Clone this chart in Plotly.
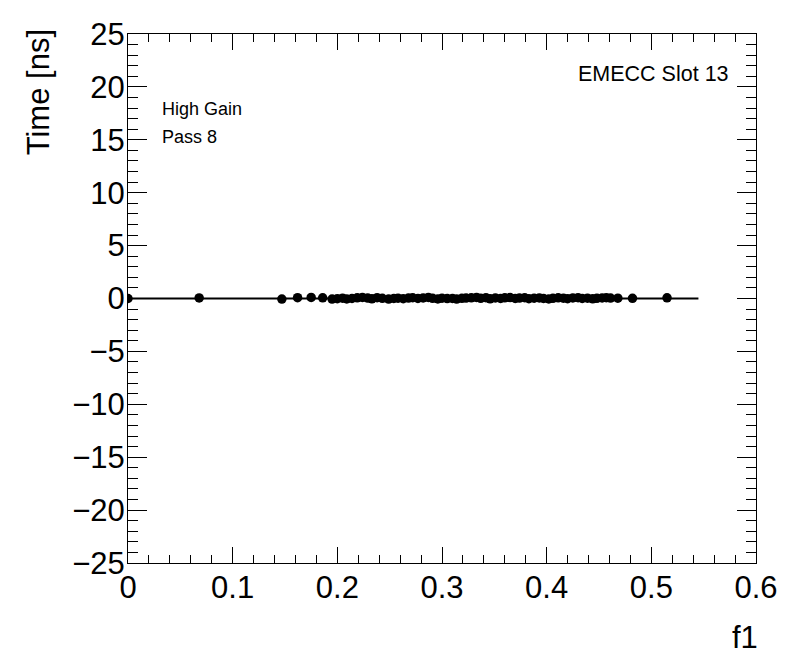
import plotly.graph_objects as go

# Data
f1_values = [0.0, 0.068, 0.147, 0.162, 0.175, 0.186, 0.195, 0.200, 0.205, 0.209,
             0.214, 0.219, 0.224, 0.229, 0.233, 0.238, 0.243, 0.249, 0.254, 0.258,
             0.263, 0.268, 0.272, 0.277, 0.282, 0.287, 0.291, 0.296, 0.300, 0.305,
             0.310, 0.314, 0.319, 0.323, 0.328, 0.333, 0.337, 0.342, 0.346, 0.351,
             0.356, 0.360, 0.365, 0.370, 0.374, 0.379, 0.383, 0.388, 0.393, 0.397,
             0.402, 0.406, 0.411, 0.416, 0.420, 0.425, 0.430, 0.434, 0.439, 0.444,
             0.448, 0.453, 0.457, 0.461, 0.468, 0.482, 0.515]
time_values = [0.00, 0.05, -0.05, 0.08, 0.10, 0.06, -0.05, -0.02, 0.03, -0.04,
               0.00, 0.06, 0.10, 0.04, -0.03, 0.08, 0.02, -0.05, 0.00, 0.03,
               -0.02, 0.04, 0.07, 0.00, 0.05, 0.10, 0.02, -0.04, 0.03, -0.01,
               0.00, -0.05, 0.02, 0.04, 0.06, 0.10, 0.02, 0.08, -0.03, 0.05,
               0.00, 0.06, 0.09, 0.01, 0.04, 0.07, -0.02, 0.03, 0.05, 0.00,
               -0.04, 0.02, 0.06, 0.03, -0.02, 0.05, 0.08, 0.00, 0.03, -0.03,
               0.02, 0.05, 0.07, 0.04, 0.03, 0.02, 0.06]
fit_x = [0.0, 0.545]
fit_y = [0.0, 0.0]

FONT = "Liberation Sans, Arial, Helvetica, sans-serif"

fig = go.Figure()
fig.add_trace(go.Scatter(x=fit_x, y=fit_y, mode="lines",
                         line=dict(color="black", width=2), showlegend=False))
fig.add_trace(go.Scatter(x=f1_values, y=time_values, mode="markers",
                         marker=dict(color="black", size=9.5, symbol="circle"),
                         showlegend=False))

fig.update_layout(
    width=796, height=672,
    margin=dict(l=128, r=40, t=34, b=109, autoexpand=False),
    paper_bgcolor="white", plot_bgcolor="white",
    font=dict(family=FONT, color="black"),
    xaxis=dict(range=[0, 0.6], dtick=0.1, tick0=0, ticks="inside", ticklen=16,
               tickcolor="black", tickwidth=1, showline=True, linecolor="black",
               linewidth=1, mirror="ticks", showgrid=False, zeroline=False,
               automargin=False, tickangle=0, ticklabelstandoff=-3,
               tickfont=dict(size=31, family=FONT),
               minor=dict(dtick=0.02, ticks="inside", ticklen=8, tickcolor="black",
                          showgrid=False)),
    yaxis=dict(range=[-25, 25], dtick=5, tick0=0, ticks="inside", ticklen=19,
               tickcolor="black", tickwidth=1, showline=True, linecolor="black",
               linewidth=1, mirror="ticks", showgrid=False, zeroline=False,
               automargin=False, ticklabelstandoff=-4,
               tickfont=dict(size=31, family=FONT),
               minor=dict(dtick=1, ticks="inside", ticklen=10, tickcolor="black",
                          showgrid=False)),
)

annotations = [
    dict(text="EMECC Slot 13", x=0.960, y=0.924, xanchor="right", yanchor="middle",
         font=dict(size=21.5)),
    dict(text="High Gain", x=0.051, y=0.858, xanchor="left", yanchor="middle",
         font=dict(size=18)),
    dict(text="Pass 8", x=0.051, y=0.805, xanchor="left", yanchor="middle",
         font=dict(size=18)),
    dict(text="f1", x=1.006, y=-0.140, xanchor="right", yanchor="middle",
         font=dict(size=31)),
    dict(text="Time [ns]", x=-0.143, y=1.013, xanchor="center", yanchor="top",
         textangle=-90, font=dict(size=31)),
]
for a in annotations:
    fig.add_annotation(xref="paper", yref="paper", showarrow=False,
                       font_family=FONT, font_color="black", **a)

fig.write_html("out.html", config={"displayModeBar": False},
               post_script="document.body.style.margin='0';document.body.style.overflow='hidden';")
